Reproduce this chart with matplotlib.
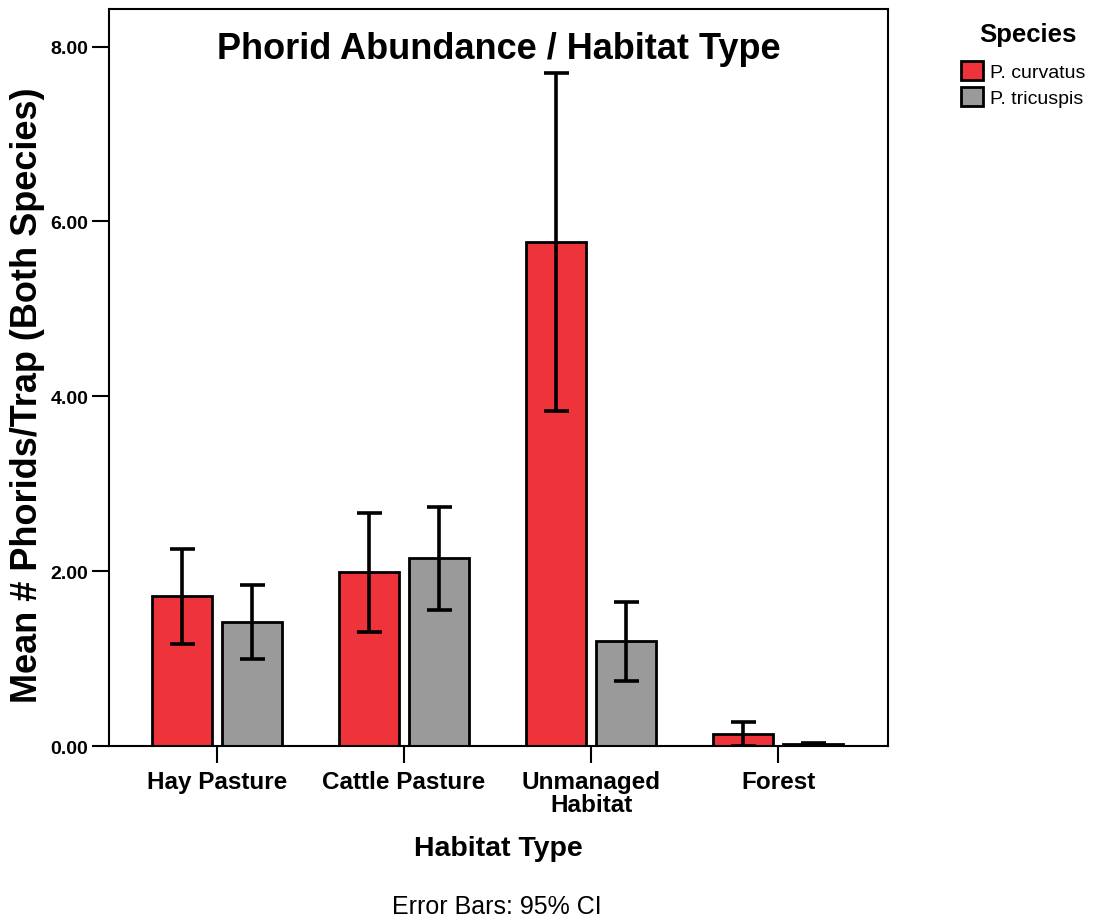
import matplotlib
matplotlib.use("Agg")
import matplotlib.pyplot as plt
import numpy as np

plt.rcParams['font.family'] = ['Liberation Sans', 'DejaVu Sans']

categories = ["Hay Pasture", "Cattle Pasture", "Unmanaged\nHabitat", "Forest"]
species = ["P. curvatus", "P. tricuspis"]
curvatus_mean = [1.72, 1.985, 5.77, 0.14]
curvatus_lo = [1.17, 1.30, 3.83, 0.0]
curvatus_hi = [2.25, 2.67, 7.70, 0.28]
tricuspis_mean = [1.42, 2.145, 1.20, 0.02]
tricuspis_lo = [1.00, 1.56, 0.74, 0.0]
tricuspis_hi = [1.84, 2.73, 1.645, 0.035]
yticks = [0, 2, 4, 6, 8]
colors = ["#EF333A", "#9A9A9A"]

fig = plt.figure(figsize=(11, 9.2), dpi=100)
ax = fig.add_axes([109/1100, 1-747/920, (888-109)/1100, (747-10)/920])

x = np.arange(len(categories))
w = 0.321
off = 0.187
series = [(curvatus_mean, curvatus_lo, curvatus_hi), (tricuspis_mean, tricuspis_lo, tricuspis_hi)]
handles = []
for i, (m, lo, hi) in enumerate(series):
    pos = x + (-off if i == 0 else off)
    b = ax.bar(pos, m, width=w, color=colors[i], edgecolor='black', linewidth=2, zorder=2, label=species[i])
    handles.append(b)
    m = np.array(m); lo = np.array(lo); hi = np.array(hi)
    ax.errorbar(pos, m, yerr=[m - lo, hi - m], fmt='none', ecolor='black',
                elinewidth=2.6, capsize=9, capthick=2.6, zorder=3)

ax.set_xlim(-0.578, 3.588)
ax.set_ylim(0, 8.43)
ax.set_yticks(yticks)
ax.set_yticklabels([f"{v:.2f}" for v in yticks], fontsize=14, fontweight='bold')
ax.set_xticks(x)
ax.set_xticklabels(categories, fontsize=17.5, fontweight='bold', linespacing=1.0)
ax.tick_params(axis='x', length=12, width=1.5, pad=5)
ax.tick_params(axis='y', length=12, width=1.5, pad=3)
for s in ax.spines.values():
    s.set_linewidth(1.5)

ax.set_ylabel("Mean # Phorids/Trap (Both Species)", fontsize=26, fontweight='bold')
ax.yaxis.set_label_coords(-0.082, 0.4776)
ax.set_xlabel("Habitat Type", fontsize=20.5, fontweight='bold', labelpad=14)
ax.text(0.5, 0.947, "Phorid Abundance / Habitat Type", transform=ax.transAxes,
        ha='center', va='center', fontsize=26, fontweight='bold')

fig.text(497/1100, 1-907/920, "Error Bars: 95% CI", ha='center', va='center', fontsize=18)

fig.text(1028/1100, 1-35/920, "Species", ha='center', va='center', fontsize=18.5, fontweight='bold')
leg = fig.legend(handles=handles, labels=species, loc='upper left',
                 bbox_to_anchor=(961/1100, 1-62/920), frameon=False,
                 fontsize=14, handlelength=1.13, handleheight=1.13,
                 handletextpad=0.35, labelspacing=0.3, borderpad=0, borderaxespad=0)

fig.savefig("out.png", dpi=100)
